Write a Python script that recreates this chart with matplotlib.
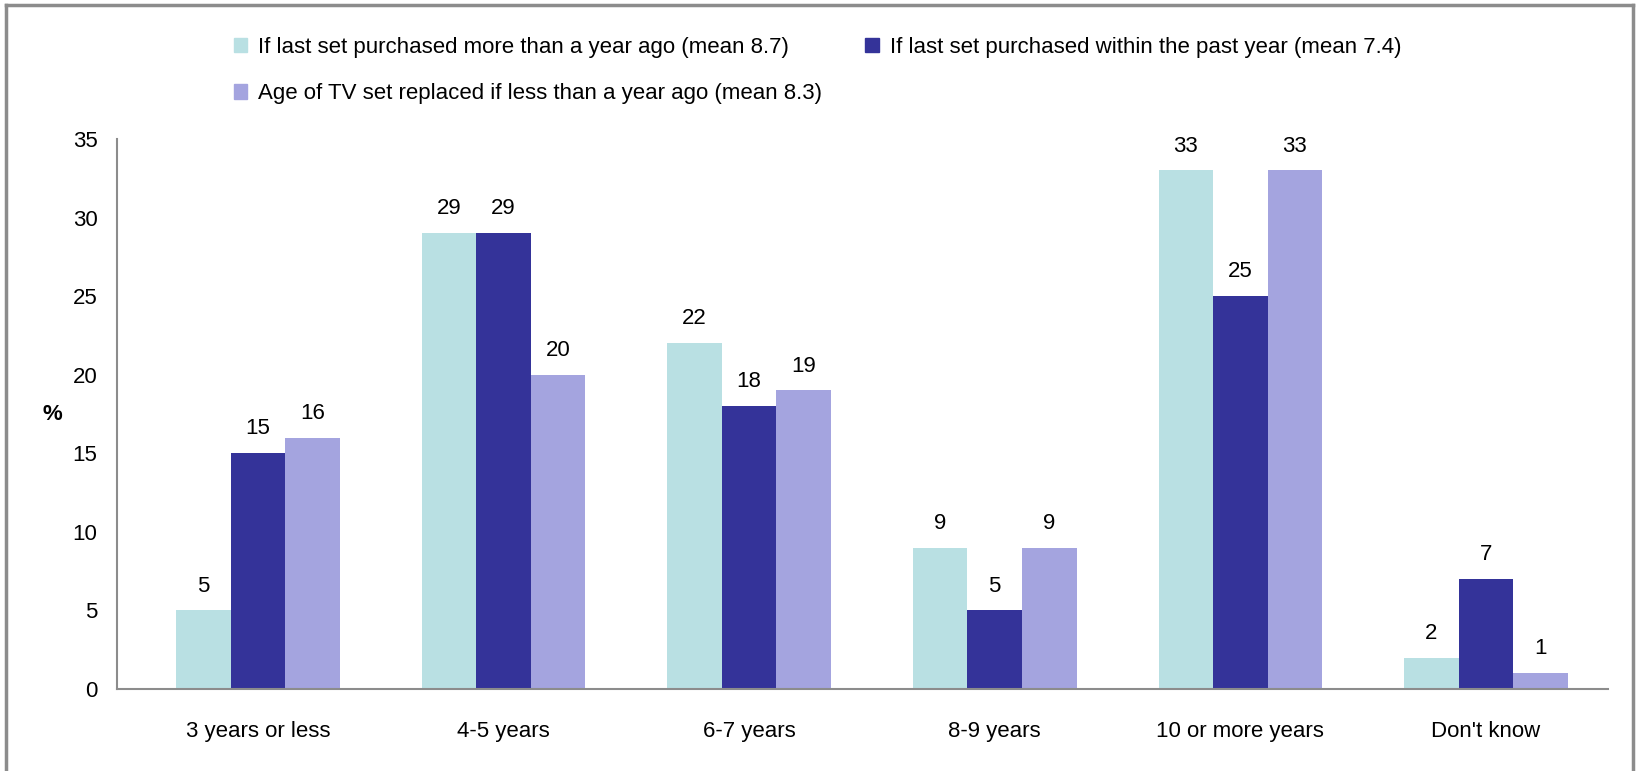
import matplotlib.pyplot as plt
import numpy as np
from matplotlib.patches import Patch
from matplotlib.lines import Line2D

plt.rcParams["font.family"] = ["Liberation Sans Narrow", "Liberation Sans", "DejaVu Sans"]

categories = ["3 years or less", "4-5 years", "6-7 years", "8-9 years", "10 or more years", "Don't know"]
series_names = [
    "If last set purchased more than a year ago (mean 8.7)",
    "If last set purchased within the past year (mean 7.4)",
    "Age of TV set replaced if less than a year ago (mean 8.3)",
]
over_year = [5, 29, 22, 9, 33, 2]
within_year = [15, 29, 18, 5, 25, 7]
replaced_age = [16, 20, 19, 9, 33, 1]
colors = ["#b9e0e3", "#343399", "#a4a4df"]
y_ticks = [0, 5, 10, 15, 20, 25, 30, 35]

fig = plt.figure(figsize=(16.38, 7.71), dpi=100)
ax = fig.add_axes([0.0714, 0.1064, 0.9103, 0.7133])

x = np.arange(len(categories))
width = 0.222
for i, (vals, name, c) in enumerate(zip([over_year, within_year, replaced_age], series_names, colors)):
    bars = ax.bar(x + (i - 1) * width, vals, width, color=c, label=name)
    ax.bar_label(bars, labels=[str(v) for v in vals], padding=10, fontsize=16)

ax.set_xlim(-0.574, 5.497)
ax.set_ylim(0, 35)
ax.set_yticks(y_ticks)
ax.set_xticks(x)
ax.set_xticklabels(categories)
ax.tick_params(axis="both", length=0, labelsize=16)
ax.tick_params(axis="x", pad=23)
ax.tick_params(axis="y", pad=14)
for side in ["top", "right"]:
    ax.spines[side].set_visible(False)
for side in ["left", "bottom"]:
    ax.spines[side].set_color("#8c8c8c")
    ax.spines[side].set_linewidth(1.5)

fig.text(0.032, 0.462, "%", fontsize=16, fontweight="bold", ha="center", va="center")

# legend rows: first two series side by side, third below
leg_handles = [Patch(color=colors[0]), Patch(color=colors[2]), Patch(color=colors[1])]
leg_labels = [series_names[0], series_names[2], series_names[1]]
fig.legend(leg_handles, leg_labels, ncol=2, loc="upper left", bbox_to_anchor=(0.1304, 0.978),
           frameon=False, fontsize=16, handlelength=0.6, handleheight=0.6,
           handletextpad=0.5, columnspacing=1.95, labelspacing=1.14)

# outer frame
frame_kw = dict(color="#8c8c8c", linewidth=2.5, transform=fig.transFigure)
fig.add_artist(Line2D([0.0035, 0.0035], [0, 0.994], **frame_kw))
fig.add_artist(Line2D([0.0035, 0.997], [0.994, 0.994], **frame_kw))
fig.add_artist(Line2D([0.997, 0.997], [0, 0.994], **frame_kw))

fig.savefig("out.png", dpi=100)
